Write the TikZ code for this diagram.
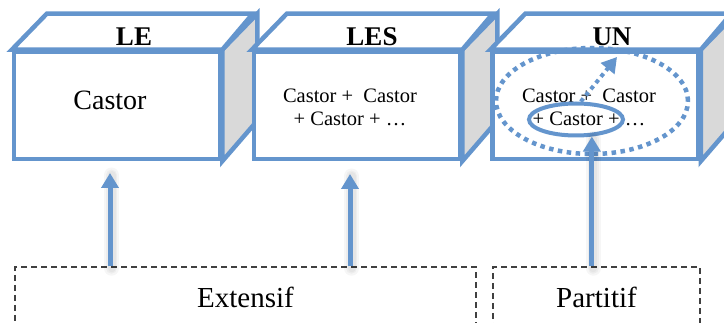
\documentclass[tikz,border=0pt]{standalone}
\usepackage{fontspec}
\setmainfont{Liberation Serif}
\usetikzlibrary{arrows.meta,shapes.geometric}

\definecolor{cubeblue}{RGB}{100,149,205}
\definecolor{sidegray}{RGB}{217,217,217}
\definecolor{dashgray}{RGB}{64,64,64}

\tikzset{
  front/.style={draw=cubeblue, line width=4.5pt, fill=white, line join=miter,
    rectangle, minimum width=206pt, minimum height=107pt, inner sep=0pt},
  face/.style={draw=cubeblue, line width=4.5pt, line join=miter},
  title/.style={font=\bfseries\fontsize{27}{30}\selectfont, inner sep=0pt},
  bigword/.style={font=\fontsize{28}{32}\selectfont, inner sep=0pt},
  sum/.style={font=\fontsize{20.5}{23}\selectfont, align=center, inner sep=0pt},
  group/.style={draw=dashgray, line width=1.5pt, dash pattern=on 6pt off 4pt,
    rectangle, inner sep=0pt, font=\fontsize{29}{32}\selectfont},
  blue arrow/.style={draw=cubeblue, line width=5pt,
    -{Triangle[width=17pt,length=15pt]}},
  soft shade/.style={draw=black, opacity=0.035, line cap=round},
}

% one cube: front face node name, depth vector (35,-36)
\newcommand{\cubefaces}[1]{%
  \filldraw[face, fill=sidegray] (#1.north east) -- ++(35,-36) -- ++(0,107)
     -- (#1.south east) -- cycle;
  \filldraw[face, fill=white] (#1.north west) -- ++(35,-36) -- ++(206,0)
     -- (#1.north east) -- cycle;
}

% faint glow under a straight arrow shaft
\newcommand{\shaftglow}[2]{%
  \foreach \w in {15,11,8} {
    \draw[soft shade, line width=\w pt] ([shift={(1.5,2)}]#1) -- ([shift={(1.5,2)}]#2);
  }
}

\begin{document}
\begin{tikzpicture}[x=1pt, y=-1pt]
\useasboundingbox (0,0) rectangle (724,323);
\clip (0,0) rectangle (724,323);

% --- the three cubes ---
\path (117,105.5) node[front] (b1) {};
\cubefaces{b1}
\path (117,105.5) node[front] {};
\node[title] (le) at (134,37) {LE};
\node[bigword] (c1) at (110,100) {Castor};

\path (357,105.5) node[front] (b2) {};
\cubefaces{b2}
\path (357,105.5) node[front] {};
\node[title] (les) at (372,37) {LES};
\node[sum] (c2) at (350,107) {Castor +\ \ Castor\\+ Castor + …};

\path (595.5,105.5) node[front] (b3) {};
\cubefaces{b3}
\path (595.5,105.5) node[front] {};
\node[title] (un) at (612,37) {UN};
\node[sum] (c3) at (589,107) {Castor +\ \ Castor\\+ Castor + …};

% --- grouping of the partitive reading ---
\node[ellipse, draw=cubeblue, line width=4.5pt, dash pattern=on 4.5pt off 4.5pt,
      minimum width=192pt, minimum height=106pt, inner sep=0pt] (whole) at (592,101) {};
\node[ellipse, draw=cubeblue, line width=4pt,
      minimum width=94pt, minimum height=32pt, inner sep=0pt] (part) at (576,119.5) {};

% --- lower labels ---
\node[group, minimum width=461pt, minimum height=60pt] (ext) at (245.5,297) {Extensif};
\node[group, minimum width=207pt, minimum height=60pt] (prt) at (596.5,297) {Partitif};

% --- arrows ---
\coordinate (t1) at (110,173);
\coordinate (t2) at (350,174);
\coordinate (t4) at (617,57);

\shaftglow{t1 |- ext.north}{t1}
\shaftglow{t2 |- ext.north}{t2}
\shaftglow{part.-47 |- prt.north}{part.-47}
\draw[blue arrow] (t1 |- ext.north) -- (t1);
\draw[blue arrow] (t2 |- ext.north) -- (t2);
\draw[blue arrow] (part.-47 |- prt.north) -- (part.-47);
\draw[blue arrow, dash pattern=on 4pt off 4pt, line width=4pt] (part.75) -- (t4);
\end{tikzpicture}
\end{document}
